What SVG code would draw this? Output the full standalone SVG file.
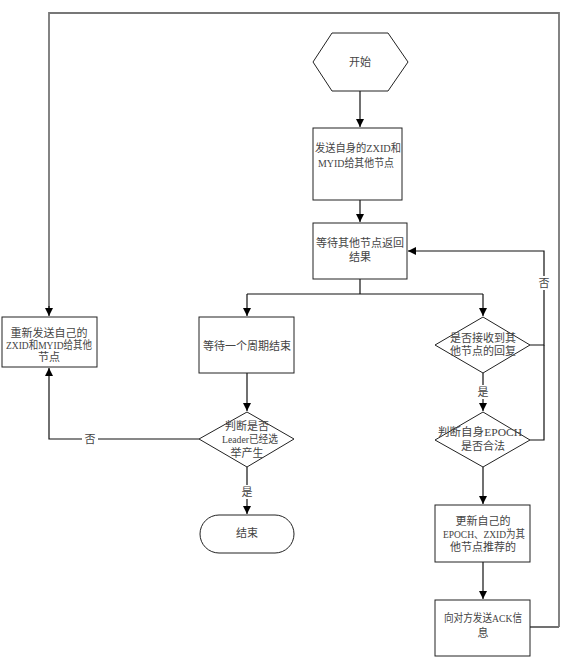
<svg xmlns="http://www.w3.org/2000/svg" width="577" height="659" viewBox="0 0 577 659">
<defs>
<marker id="arr" viewBox="0 0 10 10" refX="10" refY="5" markerWidth="8" markerHeight="8" markerUnits="userSpaceOnUse" orient="auto">
<path d="M0,0 L10,5 L0,10 Z" fill="#000"/>
</marker>
<style>
.n{fill:#fff;stroke:#222;stroke-width:1}
.t{font-family:"Liberation Serif","Noto Sans CJK SC",serif;font-size:11px;fill:#444;text-anchor:middle;dominant-baseline:central}
.c{fill:none;stroke:#111;stroke-width:1.2}
.g{fill:none;stroke:#777;stroke-width:1.8}
.lb{fill:#fff}
</style>
</defs>
<rect width="577" height="659" fill="#fff"/>
<g id="connectors">
<path class="c" d="M360,91 V127" marker-end="url(#arr)"/>
<path class="c" d="M360,200 V222" marker-end="url(#arr)"/>
<path class="c" d="M360,279 V294"/>
<path class="c" d="M247,294 H483"/>
<path class="c" d="M247,294 V316" marker-end="url(#arr)"/>
<path class="c" d="M483,294 V316" marker-end="url(#arr)"/>
<path class="c" d="M247,373 V411" marker-end="url(#arr)"/>
<path class="c" d="M247,467 V514" marker-end="url(#arr)"/>
<path class="c" d="M199,439 H49 V368" marker-end="url(#arr)"/>
<path class="c" d="M530,345 H544 V251 H408" marker-end="url(#arr)"/>
<path class="c" d="M530,440 H544 V345"/>
<path class="c" d="M483,373 V411" marker-end="url(#arr)"/>
<path class="c" d="M483,467 V504" marker-end="url(#arr)"/>
<path class="c" d="M483,562 V599" marker-end="url(#arr)"/>
<path class="c" d="M530,627 H559"/>
<path class="g" d="M559,627 V13 H49 V310"/>
<path class="c" d="M49,306 V316" marker-end="url(#arr)"/>
<rect class="lb" x="239" y="485" width="16" height="14"/>
<text class="t" x="247" y="492">是</text>
<rect class="lb" x="475" y="385" width="16" height="14"/>
<text class="t" x="483" y="392">是</text>
<rect class="lb" x="82" y="432" width="16" height="14"/>
<text class="t" x="90" y="439">否</text>
<rect class="lb" x="537" y="276" width="14" height="14"/>
<text class="t" x="544" y="283">否</text>
</g>
<g id="start">
<polygon class="n" points="313,62 332,33 388,33 408,62 388,91 332,91"/>
<text class="t" x="360" y="62">开始</text>
</g>
<g id="send">
<rect class="n" x="313" y="128" width="89" height="72"/>
<text class="t" x="358" y="148" textLength="86" lengthAdjust="spacingAndGlyphs">发送自身的ZXID和</text>
<text class="t" x="356" y="163" textLength="76" lengthAdjust="spacingAndGlyphs">MYID给其他节点</text>
</g>
<g id="wait">
<rect class="n" x="313" y="223" width="94" height="56"/>
<text class="t" x="360" y="243">等待其他节点返回</text>
<text class="t" x="360" y="257">结果</text>
</g>
<g id="resend">
<rect class="n" x="2" y="317" width="95" height="50"/>
<text class="t" x="49" y="333">重新发送自己的</text>
<text class="t" x="49" y="345" textLength="86" lengthAdjust="spacingAndGlyphs">ZXID和MYID给其他</text>
<text class="t" x="49" y="357">节点</text>
</g>
<g id="period">
<rect class="n" x="199" y="317" width="95" height="56"/>
<text class="t" x="247" y="346">等待一个周期结束</text>
</g>
<g id="leader">
<polygon class="n" points="199,439 247,412 294,439 247,467"/>
<text class="t" x="247" y="426">判断是否</text>
<text class="t" x="250" y="439" textLength="56" lengthAdjust="spacingAndGlyphs">Leader已经选</text>
<text class="t" x="247" y="453">举产生</text>
</g>
<g id="end">
<rect class="n" x="200" y="515" width="94" height="38" rx="19" ry="19"/>
<text class="t" x="247" y="533">结束</text>
</g>
<g id="received">
<polygon class="n" points="435,345 483,317 530,345 483,373"/>
<text class="t" x="483" y="338">是否接收到其</text>
<text class="t" x="483" y="351">他节点的回复</text>
</g>
<g id="epoch">
<polygon class="n" points="435,440 483,412 530,440 483,467"/>
<text class="t" x="480" y="432" textLength="84" lengthAdjust="spacingAndGlyphs">判断自身EPOCH</text>
<text class="t" x="483" y="446">是否合法</text>
</g>
<g id="update">
<rect class="n" x="435" y="505" width="95" height="57"/>
<text class="t" x="483" y="521">更新自己的</text>
<text class="t" x="484" y="534" textLength="82" lengthAdjust="spacingAndGlyphs">EPOCH、ZXID为其</text>
<text class="t" x="483" y="547">他节点推荐的</text>
</g>
<g id="ack">
<rect class="n" x="435" y="600" width="95" height="56"/>
<text class="t" x="483" y="618" textLength="78" lengthAdjust="spacingAndGlyphs">向对方发送ACK信</text>
<text class="t" x="483" y="633">息</text>
</g>
</svg>
